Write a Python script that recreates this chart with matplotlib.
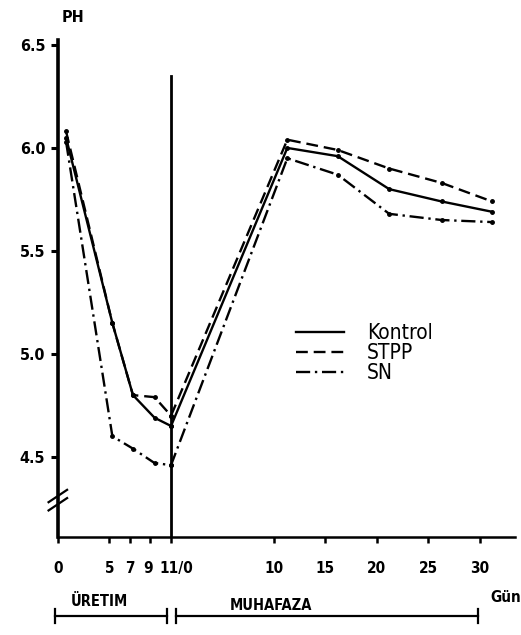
import matplotlib
matplotlib.use("Agg")
import matplotlib.pyplot as plt
import matplotlib.transforms as mtransforms

plt.rcParams['font.family'] = ['DejaVu Sans']
plt.rcParams['font.stretch'] = 'condensed'

# production days (uretim) and storage days (muhafaza)
prod_days = [0.8, 5.3, 7.3, 9.4, 11]
store_days = [0, 11.3, 16.2, 21.2, 26.3, 31.2]

kontrol_prod = [6.05, 5.15, 4.80, 4.69, 4.65]
stpp_prod = [6.08, 5.15, 4.80, 4.79, 4.70]
sn_prod = [6.03, 4.60, 4.54, 4.47, 4.46]

kontrol_store = [4.65, 6.00, 5.96, 5.80, 5.74, 5.69]
stpp_store = [4.70, 6.04, 5.99, 5.90, 5.83, 5.74]
sn_store = [4.46, 5.95, 5.87, 5.68, 5.65, 5.64]

tick_pos = [0, 5, 7, 9, 11, 21, 26, 31, 36, 41]
tick_lab = ['0', '5', '7', '9', '11/0', '10', '15', '20', '25', '30']
y_ticks = [4.5, 5.0, 5.5, 6.0, 6.5]
split_day = 11

fig = plt.figure(figsize=(5.21, 6.35), dpi=100)
ax = fig.add_axes([0.111, 0.154, 0.877, 0.783])

series = [
    ('Kontrol', kontrol_prod, kontrol_store, '-'),
    ('STPP', stpp_prod, stpp_store, (0, (5, 2.5))),
    ('SN', sn_prod, sn_store, (0, (6, 2, 1, 2))),
]
for name, prod, store, ls in series:
    x = prod_days + [split_day + d for d in store_days]
    y = prod + store
    ax.plot(x, y, color='black', lw=1.7, ls=ls, marker='o', ms=2.5, label=name)

# phase divider at 11/0
ax.plot([split_day, split_day], [4.11, 6.35], color='black', lw=2.0)

ax.set_xlim(0, 44.4)
ax.set_ylim(4.11, 6.524)
ax.spines['top'].set_visible(False)
ax.spines['right'].set_visible(False)
ax.spines['left'].set_linewidth(2.6)
ax.spines['bottom'].set_linewidth(1.8)

ax.set_xticks(tick_pos)
ax.set_xticklabels(tick_lab, fontweight='bold')
ax.set_yticks(y_ticks)
ax.set_yticklabels([f'{v:.1f}' for v in y_ticks], fontweight='bold')
ax.tick_params(axis='x', length=4, width=1.8, pad=13, labelsize=11)
ax.tick_params(axis='y', length=5, width=2.2, pad=4, labelsize=11.5)

# nudge the crowded "9" and "11/0" labels apart
fig.canvas.draw()
labels = ax.get_xticklabels()
labels[3].set_transform(labels[3].get_transform() +
                        mtransforms.ScaledTranslation(-2 / 100, 0, fig.dpi_scale_trans))
labels[4].set_transform(labels[4].get_transform() +
                        mtransforms.ScaledTranslation(5 / 100, 0, fig.dpi_scale_trans))

# axis break mark
for dy in (-0.02, 0.02):
    ax.plot([-0.9, 0.9], [4.29 + dy - 0.03, 4.29 + dy + 0.03], color='black',
            lw=1.6, clip_on=False)

fig.text(73 / 521, 1 - 17 / 635, 'PH', ha='center', va='center', fontsize=11.5,
         fontweight='bold')
fig.text(506 / 521, 1 - 597 / 635, 'Gün', ha='center', va='center', fontsize=11,
         fontweight='bold')

# phase brackets below the axis
tr = mtransforms.blended_transform_factory(ax.transData, fig.transFigure)
y_line = 1 - 616 / 635
bar = 0.022
for x0, x1 in [(-0.3, 10.6), (11.5, 40.8)]:
    ax.plot([x0, x1], [y_line, y_line], color='black', lw=1.6,
            transform=tr, clip_on=False)
    for xb in (x0, x1):
        ax.plot([xb, xb], [y_line - bar / 2, y_line + bar / 2], color='black',
                lw=1.6, transform=tr, clip_on=False)
ax.text(4.0, 1 - 602 / 635, 'ÜRETIM', transform=tr, ha='center', va='center',
        fontsize=10.5, fontweight='bold')
ax.text(20.7, 1 - 606 / 635, 'MUHAFAZA', transform=tr, ha='center', va='center',
        fontsize=10.5, fontweight='bold')

ax.legend(loc='upper left', bbox_to_anchor=(296 / 521, 1 - 323 / 635),
          bbox_transform=fig.transFigure, frameon=False, fontsize=15,
          handlelength=2.3, handletextpad=1.1, labelspacing=0.0,
          borderpad=0, borderaxespad=0, markerscale=0)

fig.savefig('out.png', dpi=100)
